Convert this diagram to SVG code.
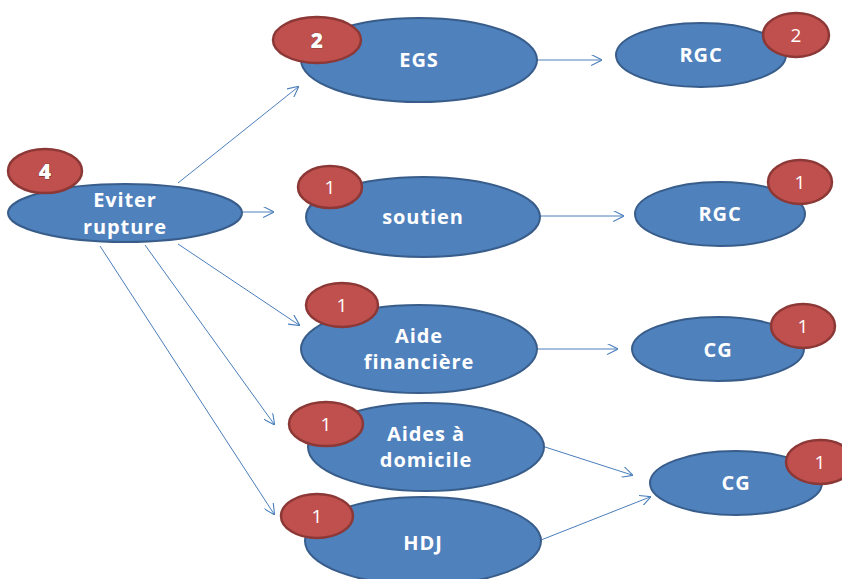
<svg xmlns="http://www.w3.org/2000/svg" width="842" height="579" viewBox="0 0 842 579">
<defs>
<style>
.n{fill:#4f81bd;stroke:#385d8a;stroke-width:2}
.b{fill:#c0504d;stroke:#8c3836;stroke-width:2.5}
.t{font-family:"Open Sans","Liberation Sans",sans-serif;font-weight:bold;font-size:20px;letter-spacing:0.9px;fill:#fff;text-anchor:middle}
.bt{font-family:"Open Sans","Liberation Sans",sans-serif;font-size:19px;fill:#fff;text-anchor:middle}
.btb{font-family:"Open Sans","Liberation Sans",sans-serif;font-weight:800;font-size:21px;fill:#fff;stroke:#5a2422;stroke-width:0.6;paint-order:stroke;text-anchor:middle}
.c line{stroke:#4a7ebb;stroke-width:1;marker-end:url(#a)}
</style>
<marker id="a" viewBox="0 0 10 10" refX="9" refY="5" markerWidth="11" markerHeight="11" markerUnits="userSpaceOnUse" orient="auto">
<path d="M0,0 L10,5 L0,10" fill="none" stroke="#4a7ebb" stroke-width="1"/>
</marker>
</defs>
<rect width="842" height="579" fill="#fff"/>
<g class="c" id="connectors">
<line x1="178" y1="183" x2="298" y2="87"/>
<line x1="242" y1="212" x2="273" y2="212"/>
<line x1="178" y1="244" x2="299" y2="325"/>
<line x1="145" y1="245" x2="274" y2="424"/>
<line x1="100" y1="246" x2="274" y2="514"/>
<line x1="537" y1="60" x2="601" y2="60"/>
<line x1="540" y1="216" x2="623" y2="216"/>
<line x1="537" y1="349" x2="617" y2="349"/>
<line x1="545" y1="447" x2="632" y2="475"/>
<line x1="541" y1="540" x2="650" y2="497"/>
</g>
<g id="eviter">
<ellipse class="n" cx="125" cy="213" rx="117" ry="29"/>
<ellipse class="b" cx="45" cy="171" rx="37" ry="22"/>
<text class="btb" x="45" y="179">4</text>
<text class="t" x="125" y="207">Eviter</text>
<text class="t" x="125" y="234">rupture</text>
</g>
<g id="egs">
<ellipse class="n" cx="419" cy="60" rx="118" ry="42"/>
<ellipse class="b" cx="317" cy="40" rx="44" ry="23"/>
<text class="btb" x="317" y="48">2</text>
<text class="t" x="419" y="67">EGS</text>
</g>
<g id="rgc1">
<ellipse class="n" cx="701" cy="55" rx="85" ry="32"/>
<ellipse class="b" cx="796" cy="35" rx="33" ry="22"/>
<text class="bt" x="796" y="42">2</text>
<text class="t" x="701" y="62">RGC</text>
</g>
<g id="soutien">
<ellipse class="n" cx="423" cy="217" rx="117" ry="40"/>
<ellipse class="b" cx="330" cy="187" rx="32" ry="21"/>
<text class="bt" x="330" y="194">1</text>
<text class="t" x="423" y="224">soutien</text>
</g>
<g id="rgc2">
<ellipse class="n" cx="720" cy="214" rx="85" ry="32"/>
<ellipse class="b" cx="800" cy="182" rx="32" ry="22"/>
<text class="bt" x="800" y="189">1</text>
<text class="t" x="720" y="221">RGC</text>
</g>
<g id="aidefin">
<ellipse class="n" cx="419" cy="349" rx="118" ry="44"/>
<ellipse class="b" cx="342" cy="305" rx="36" ry="22"/>
<text class="bt" x="342" y="312">1</text>
<text class="t" x="419" y="343">Aide</text>
<text class="t" x="419" y="369">financière</text>
</g>
<g id="cg1">
<ellipse class="n" cx="718" cy="349" rx="86" ry="32"/>
<ellipse class="b" cx="803" cy="326" rx="32" ry="22"/>
<text class="bt" x="803" y="333">1</text>
<text class="t" x="718" y="357">CG</text>
</g>
<g id="aidesdom">
<ellipse class="n" cx="426" cy="447" rx="118" ry="44"/>
<ellipse class="b" cx="326" cy="424" rx="37" ry="22"/>
<text class="bt" x="326" y="431">1</text>
<text class="t" x="426" y="441">Aides à</text>
<text class="t" x="426" y="467">domicile</text>
</g>
<g id="hdj">
<ellipse class="n" cx="423" cy="541" rx="118" ry="44"/>
<ellipse class="b" cx="317" cy="516" rx="36" ry="22"/>
<text class="bt" x="317" y="523">1</text>
<text class="t" x="423" y="550">HDJ</text>
</g>
<g id="cg2">
<ellipse class="n" cx="736" cy="483" rx="86" ry="32"/>
<ellipse class="b" cx="820" cy="462" rx="34" ry="22"/>
<text class="bt" x="820" y="469">1</text>
<text class="t" x="736" y="490">CG</text>
</g>
</svg>
